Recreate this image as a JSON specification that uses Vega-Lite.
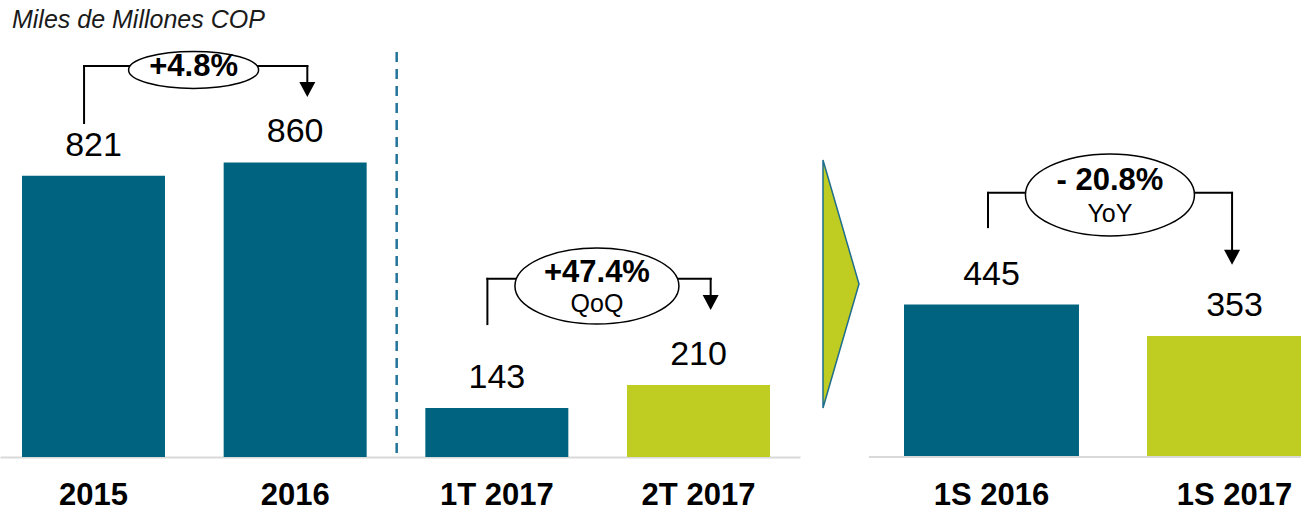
{
  "$schema": "https://vega.github.io/schema/vega-lite/v6.json",
  "padding": 0,
  "background": "white",
  "spacing": 69,
  "bounds": "flush",
  "config": {"view": {"stroke": null}, "font": "Liberation Sans", "axisY": {"disable": true}},
  "datasets": {
    "barras": [
      {"panel": "anual_trimestral", "periodo": "2015", "valor": 821, "serie": "previo"},
      {"panel": "anual_trimestral", "periodo": "2016", "valor": 860, "serie": "previo"},
      {"panel": "anual_trimestral", "periodo": "1T 2017", "valor": 143, "serie": "previo"},
      {"panel": "anual_trimestral", "periodo": "2T 2017", "valor": 210, "serie": "actual"},
      {"panel": "semestral", "periodo": "1S 2016", "valor": 445, "serie": "previo"},
      {"panel": "semestral", "periodo": "1S 2017", "valor": 353, "serie": "actual"}
    ],
    "variaciones": [
      {"panel": "anual_trimestral", "desde": "2015", "hasta": "2016", "variacion": "+4.8%", "base": "", "tipo": "anual", "y_linea": 1141, "y_inicio": 975, "y_fin": 1086, "y_punta": 1051, "y_elipse": 1130, "y_variacion": 1112, "y_base": 1112},
      {"panel": "anual_trimestral", "desde": "1T 2017", "hasta": "2T 2017", "variacion": "+47.4%", "base": "QoQ", "tipo": "QoQ", "y_linea": 520, "y_inicio": 388, "y_fin": 464, "y_punta": 429, "y_elipse": 499, "y_variacion": 511, "y_base": 423},
      {"panel": "semestral", "desde": "1S 2016", "hasta": "1S 2017", "variacion": "- 20.8%", "base": "YoY", "tipo": "YoY", "y_linea": 771, "y_inicio": 671, "y_fin": 596, "y_punta": 561, "y_elipse": 765, "y_variacion": 779, "y_base": 686}
    ]
  },
  "hconcat": [
    {
      "width": 800,
      "height": 457,
      "layer": [
        {
          "data": {"name": "barras"},
          "transform": [{"filter": "datum.panel === 'anual_trimestral'"}],
          "mark": {"type": "bar"},
          "encoding": {
            "x": {"field": "periodo", "type": "nominal", "title": null, "sort": null,
              "scale": {"domain": ["2015", "2016", "1T 2017", "2T 2017"], "paddingInner": 0.2909, "paddingOuter": 0.1289, "align": 0.423},
              "axis": {"title": null, "labelAngle": 0, "ticks": false, "tickSize": 0, "labelPadding": 23, "labelFont": "Liberation Sans", "labelFontSize": 31, "labelFontWeight": "bold", "labelColor": "#000000", "domainColor": "#d9d9d9", "domainWidth": 2, "grid": false}},
            "y": {"field": "valor", "type": "quantitative", "title": null, "scale": {"domain": [0, 1334], "nice": false}, "axis": null},
            "color": {"field": "serie", "type": "nominal", "scale": {"domain": ["previo", "actual"], "range": ["#006480", "#bfcc22"]}, "legend": null}
          }
        },
        {
          "data": {"name": "barras"},
          "transform": [{"filter": "datum.panel === 'anual_trimestral'"}],
          "mark": {"type": "text", "dy": -20, "baseline": "alphabetic", "align": "center", "fontSize": 34, "color": "#000000"},
          "encoding": {
            "x": {"field": "periodo", "type": "nominal", "title": null},
            "y": {"field": "valor", "type": "quantitative", "title": null, "axis": null},
            "text": {"field": "valor", "type": "quantitative"}
          }
        },
        {
          "data": {"name": "barras"},
          "transform": [{"filter": "datum.periodo === '2015'"}],
          "mark": {"type": "text", "dx": -10, "align": "left", "baseline": "alphabetic", "fontSize": 25, "fontStyle": "italic", "color": "#1a1a1a"},
          "encoding": {
            "x": {"field": "periodo", "type": "nominal", "title": null, "bandPosition": 0},
            "y": {"datum": 1252, "type": "quantitative", "title": null, "axis": null},
            "text": {"value": "Miles de Millones COP"}
          }
        },
        {
          "data": {"name": "barras"},
          "transform": [{"filter": "datum.periodo === '2016'"}],
          "mark": {"type": "rule", "color": "#23739a", "strokeWidth": 2.5, "strokeDash": [10, 7]},
          "encoding": {
            "x": {"field": "periodo", "type": "nominal", "title": null, "bandPosition": 1.21},
            "y": {"datum": 1182, "type": "quantitative", "title": null, "axis": null},
            "y2": {"datum": 0}
          }
        },
        {
          "data": {"name": "variaciones"},
          "transform": [{"filter": "datum.panel === 'anual_trimestral'"}],
          "mark": {"type": "rule", "color": "#000000", "strokeWidth": 2, "strokeCap": "square"},
          "encoding": {
            "x": {"field": "desde", "type": "nominal", "title": null, "bandPosition": 0.434},
            "x2": {"field": "hasta", "bandPosition": 0.585},
            "y": {"field": "y_linea", "type": "quantitative", "title": null, "axis": null}
          }
        },
        {
          "data": {"name": "variaciones"},
          "transform": [{"filter": "datum.panel === 'anual_trimestral'"}],
          "mark": {"type": "rule", "color": "#000000", "strokeWidth": 2, "strokeCap": "square"},
          "encoding": {
            "x": {"field": "desde", "type": "nominal", "title": null, "bandPosition": 0.434},
            "y": {"field": "y_linea", "type": "quantitative", "title": null, "axis": null},
            "y2": {"field": "y_inicio"}
          }
        },
        {
          "data": {"name": "variaciones"},
          "transform": [{"filter": "datum.panel === 'anual_trimestral'"}],
          "mark": {"type": "rule", "color": "#000000", "strokeWidth": 2, "strokeCap": "square"},
          "encoding": {
            "x": {"field": "hasta", "type": "nominal", "title": null, "bandPosition": 0.585},
            "y": {"field": "y_linea", "type": "quantitative", "title": null, "axis": null},
            "y2": {"field": "y_fin"}
          }
        },
        {
          "data": {"name": "variaciones"},
          "transform": [{"filter": "datum.panel === 'anual_trimestral'"}],
          "mark": {"type": "point", "shape": "M -8 -15 L 8 -15 L 0 0 Z", "size": 4, "filled": true, "fill": "#000000", "strokeWidth": 0, "opacity": 1},
          "encoding": {
            "x": {"field": "hasta", "type": "nominal", "title": null, "bandPosition": 0.585},
            "y": {"field": "y_punta", "type": "quantitative", "title": null, "axis": null}
          }
        },
        {
          "data": {"name": "variaciones"},
          "transform": [{"filter": "datum.tipo === 'anual'"}],
          "mark": {"type": "point", "shape": "M -65 0 C -65 -10.22 -35.9 -18.5 0 -18.5 C 35.9 -18.5 65 -10.22 65 0 C 65 10.22 35.9 18.5 0 18.5 C -35.9 18.5 -65 10.22 -65 0 Z", "size": 4, "filled": true, "fill": "#ffffff", "stroke": "#000000", "strokeWidth": 1.5, "opacity": 1},
          "encoding": {
            "x": {"field": "desde", "type": "nominal", "title": null, "bandPosition": 1.2},
            "y": {"field": "y_elipse", "type": "quantitative", "title": null, "axis": null}
          }
        },
        {
          "data": {"name": "variaciones"},
          "transform": [{"filter": "datum.tipo === 'QoQ'"}],
          "mark": {"type": "point", "shape": "M -82 0 C -82 -20.99 -45.29 -38 0 -38 C 45.29 -38 82 -20.99 82 0 C 82 20.99 45.29 38 0 38 C -45.29 38 -82 20.99 -82 0 Z", "size": 4, "filled": true, "fill": "#ffffff", "stroke": "#000000", "strokeWidth": 1.5, "opacity": 1},
          "encoding": {
            "x": {"field": "desde", "type": "nominal", "title": null, "bandPosition": 1.2},
            "y": {"field": "y_elipse", "type": "quantitative", "title": null, "axis": null}
          }
        },
        {
          "data": {"name": "variaciones"},
          "transform": [{"filter": "datum.panel === 'anual_trimestral'"}],
          "mark": {"type": "text", "align": "center", "baseline": "alphabetic", "fontSize": 31, "fontWeight": "bold", "color": "#000000"},
          "encoding": {
            "x": {"field": "desde", "type": "nominal", "title": null, "bandPosition": 1.2},
            "y": {"field": "y_variacion", "type": "quantitative", "title": null, "axis": null},
            "text": {"field": "variacion", "type": "nominal"}
          }
        },
        {
          "data": {"name": "variaciones"},
          "transform": [{"filter": "datum.panel === 'anual_trimestral'"}],
          "mark": {"type": "text", "align": "center", "baseline": "alphabetic", "fontSize": 25, "color": "#000000"},
          "encoding": {
            "x": {"field": "desde", "type": "nominal", "title": null, "bandPosition": 1.2},
            "y": {"field": "y_base", "type": "quantitative", "title": null, "axis": null},
            "text": {"field": "base", "type": "nominal"}
          }
        }
      ]
    },
    {
      "width": 432,
      "height": 457,
      "layer": [
        {
          "data": {"name": "barras"},
          "transform": [{"filter": "datum.panel === 'semestral'"}],
          "mark": {"type": "bar", "clip": true},
          "encoding": {
            "x": {"field": "periodo", "type": "nominal", "title": null, "sort": null,
              "scale": {"domain": ["1S 2016", "1S 2017"], "range": [35, 453], "paddingInner": 0.28, "paddingOuter": 0},
              "axis": {"title": null, "labelAngle": 0, "ticks": false, "tickSize": 0, "labelPadding": 23, "labelFont": "Liberation Sans", "labelFontSize": 31, "labelFontWeight": "bold", "labelColor": "#000000", "domain": false, "grid": false}},
            "y": {"field": "valor", "type": "quantitative", "title": null, "scale": {"domain": [0, 1334], "nice": false}, "axis": null},
            "color": {"field": "serie", "type": "nominal", "scale": {"domain": ["previo", "actual"], "range": ["#006480", "#bfcc22"]}, "legend": null}
          }
        },
        {
          "data": {"name": "barras"},
          "transform": [{"filter": "datum.periodo === '1S 2016'"}],
          "mark": {"type": "rule", "color": "#d9d9d9", "strokeWidth": 2},
          "encoding": {
            "x": {"field": "periodo", "type": "nominal", "title": null, "bandPosition": -0.2},
            "x2": {"value": "width"},
            "y": {"datum": 0, "type": "quantitative", "title": null, "axis": null}
          }
        },
        {
          "data": {"name": "barras"},
          "transform": [{"filter": "datum.periodo === '1S 2016'"}],
          "mark": {"type": "point", "shape": "M -168.5 -124 L -132.5 0 L -168.5 124 Z", "size": 4, "filled": true, "fill": "#bfcc22", "stroke": "#1f6e8c", "strokeWidth": 1.5, "opacity": 1},
          "encoding": {
            "x": {"field": "periodo", "type": "nominal", "title": null},
            "y": {"datum": 505, "type": "quantitative", "title": null, "axis": null}
          }
        },
        {
          "data": {"name": "barras"},
          "transform": [{"filter": "datum.panel === 'semestral'"}],
          "mark": {"type": "text", "dy": -20, "baseline": "alphabetic", "align": "center", "fontSize": 34, "color": "#000000"},
          "encoding": {
            "x": {"field": "periodo", "type": "nominal", "title": null},
            "y": {"field": "valor", "type": "quantitative", "title": null, "axis": null},
            "text": {"field": "valor", "type": "quantitative"}
          }
        },
        {
          "data": {"name": "variaciones"},
          "transform": [{"filter": "datum.panel === 'semestral'"}],
          "mark": {"type": "rule", "color": "#000000", "strokeWidth": 2, "strokeCap": "square"},
          "encoding": {
            "x": {"field": "desde", "type": "nominal", "title": null, "bandPosition": 0.48},
            "x2": {"field": "hasta", "bandPosition": 0.486},
            "y": {"field": "y_linea", "type": "quantitative", "title": null, "axis": null}
          }
        },
        {
          "data": {"name": "variaciones"},
          "transform": [{"filter": "datum.panel === 'semestral'"}],
          "mark": {"type": "rule", "color": "#000000", "strokeWidth": 2, "strokeCap": "square"},
          "encoding": {
            "x": {"field": "desde", "type": "nominal", "title": null, "bandPosition": 0.48},
            "y": {"field": "y_linea", "type": "quantitative", "title": null, "axis": null},
            "y2": {"field": "y_inicio"}
          }
        },
        {
          "data": {"name": "variaciones"},
          "transform": [{"filter": "datum.panel === 'semestral'"}],
          "mark": {"type": "rule", "color": "#000000", "strokeWidth": 2, "strokeCap": "square"},
          "encoding": {
            "x": {"field": "hasta", "type": "nominal", "title": null, "bandPosition": 0.486},
            "y": {"field": "y_linea", "type": "quantitative", "title": null, "axis": null},
            "y2": {"field": "y_fin"}
          }
        },
        {
          "data": {"name": "variaciones"},
          "transform": [{"filter": "datum.panel === 'semestral'"}],
          "mark": {"type": "point", "shape": "M -8 -15 L 8 -15 L 0 0 Z", "size": 4, "filled": true, "fill": "#000000", "strokeWidth": 0, "opacity": 1},
          "encoding": {
            "x": {"field": "hasta", "type": "nominal", "title": null, "bandPosition": 0.486},
            "y": {"field": "y_punta", "type": "quantitative", "title": null, "axis": null}
          }
        },
        {
          "data": {"name": "variaciones"},
          "transform": [{"filter": "datum.tipo === 'YoY'"}],
          "mark": {"type": "point", "shape": "M -84.5 0 C -84.5 -22.64 -46.67 -41 0 -41 C 46.67 -41 84.5 -22.64 84.5 0 C 84.5 22.64 46.67 41 0 41 C -46.67 41 -84.5 22.64 -84.5 0 Z", "size": 4, "filled": true, "fill": "#ffffff", "stroke": "#000000", "strokeWidth": 1.5, "opacity": 1},
          "encoding": {
            "x": {"field": "desde", "type": "nominal", "title": null, "bandPosition": 1.177},
            "y": {"field": "y_elipse", "type": "quantitative", "title": null, "axis": null}
          }
        },
        {
          "data": {"name": "variaciones"},
          "transform": [{"filter": "datum.panel === 'semestral'"}],
          "mark": {"type": "text", "align": "center", "baseline": "alphabetic", "fontSize": 31, "fontWeight": "bold", "color": "#000000"},
          "encoding": {
            "x": {"field": "desde", "type": "nominal", "title": null, "bandPosition": 1.177},
            "y": {"field": "y_variacion", "type": "quantitative", "title": null, "axis": null},
            "text": {"field": "variacion", "type": "nominal"}
          }
        },
        {
          "data": {"name": "variaciones"},
          "transform": [{"filter": "datum.panel === 'semestral'"}],
          "mark": {"type": "text", "align": "center", "baseline": "alphabetic", "fontSize": 25, "color": "#000000"},
          "encoding": {
            "x": {"field": "desde", "type": "nominal", "title": null, "bandPosition": 1.177},
            "y": {"field": "y_base", "type": "quantitative", "title": null, "axis": null},
            "text": {"field": "base", "type": "nominal"}
          }
        }
      ]
    }
  ]
}
